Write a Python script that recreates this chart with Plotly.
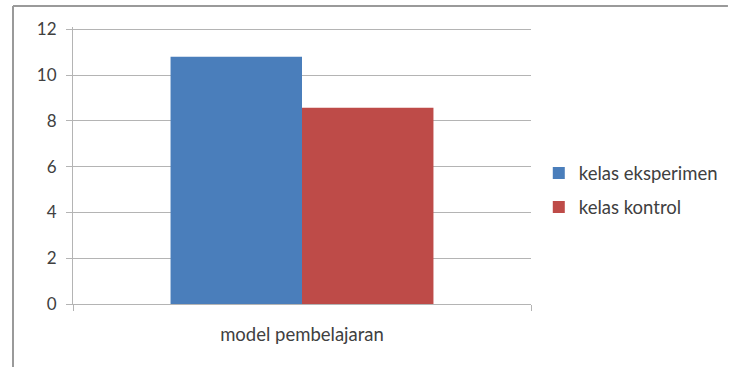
import plotly.graph_objects as go

# Mean scores per class group
categories = ["model pembelajaran"]
series_names = ["kelas eksperimen", "kelas kontrol"]
eksperimen = [10.8]
kontrol = [8.57]
y_ticks = [0, 2, 4, 6, 8, 10, 12]

colors = ["#4A7EBB", "#BE4B48"]
font_family = "Lato, 'Open Sans', sans-serif"
text_color = "#404040"
grid_color = "#B4B4B4"

fig = go.Figure()
for name, vals, col in zip(series_names, [eksperimen, kontrol], colors):
    fig.add_trace(go.Bar(
        x=categories, y=vals, name=name,
        marker=dict(color=col, line=dict(width=0)),
        legendgroup=name,
    ))

fig.update_layout(
    width=729, height=367,
    margin=dict(l=73, r=198, t=27, b=63, autoexpand=False),
    paper_bgcolor="white", plot_bgcolor="white",
    barmode="group", bargap=0.426, bargroupgap=0,
    font=dict(family=font_family, size=17, color=text_color),
    showlegend=True,
    legend=dict(
        x=1.017, y=0.41, xanchor="left", yanchor="middle",
        font=dict(size=18.5, color=text_color),
        tracegroupgap=7, itemwidth=30,
        bgcolor="rgba(0,0,0,0)",
    ),
    xaxis=dict(
        type="category", range=[-0.5, 0.5],
        showline=True, linecolor=grid_color, linewidth=1,
        ticks="outside", tickson="boundaries", ticklen=6, tickcolor=grid_color,
        tickfont=dict(size=18.5, color=text_color),
        ticklabelstandoff=14,
        showgrid=False,
    ),
    yaxis=dict(
        range=[0, 12.1], tickvals=y_ticks,
        showline=True, linecolor=grid_color, linewidth=1,
        ticks="outside", ticklen=6, tickcolor=grid_color,
        showgrid=True, gridcolor=grid_color, gridwidth=1,
        zeroline=False,
        tickfont=dict(size=17, color=text_color),
        ticklabelstandoff=6,
    ),
    shapes=[
        # chart frame: top and left edges
        dict(type="line", xref="paper", yref="paper",
             x0=-0.131, x1=1.43, y0=1.076, y1=1.076,
             line=dict(color="#9A9A9A", width=2)),
        dict(type="line", xref="paper", yref="paper",
             x0=-0.131, x1=-0.131, y0=1.076, y1=-0.24,
             line=dict(color="#9A9A9A", width=2)),
    ],
)

fig.write_html("out.html")
